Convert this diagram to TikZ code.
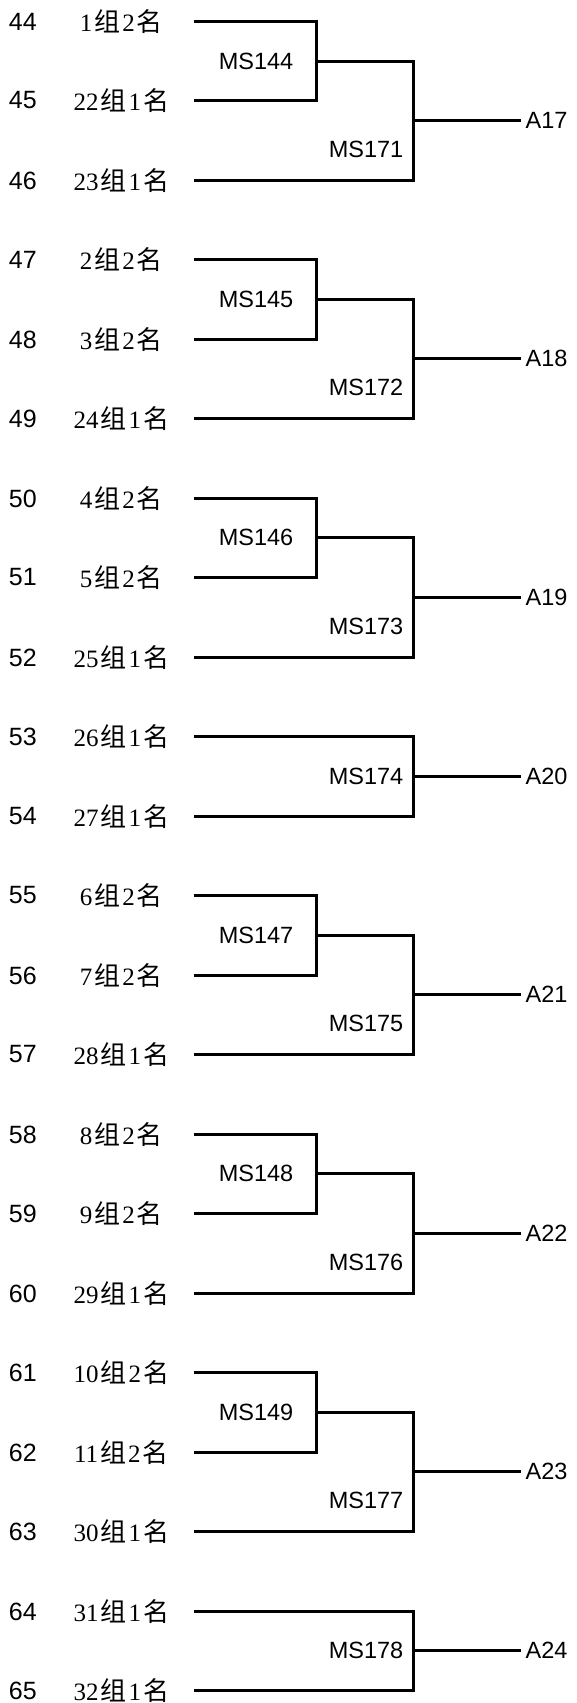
\documentclass[tikz,border=0pt]{standalone}
\usepackage{fontspec}
\setmainfont{Liberation Sans}
\newfontfamily\teamserif{Liberation Serif}
\newfontfamily\cjk[Scale=1.04]{Noto Sans CJK SC}
\newcommand\rank[2]{#1\kern2pt{\cjk 组}\kern2pt#2\kern2pt{\cjk 名}}

\begin{document}
\begin{tikzpicture}[x=1pt,y=-1pt,
    seed/.style={font=\fontsize{25}{30}\selectfont},
    team/.style={anchor=east,minimum width=144pt,inner sep=0pt,
      font=\teamserif\fontsize{25}{30}\selectfont},
    match/.style={font=\fontsize{23.5}{28}\selectfont},
    slot/.style={anchor=west,inner sep=5pt,font=\fontsize{23.5}{28}\selectfont},
    wire/.style={line width=3pt}]
  \useasboundingbox (0,0) rectangle (576,1703);

  % seeds 44-46
  \node[seed] (n44) at (22.8,21.5) {44};
  \node[seed] (n45) at (22.8,100.5) {45};
  \node[seed] (n46) at (22.8,180.5) {46};
  \node[team] (t44) at (193.5,21.5) {\rank{1}{2}};
  \node[team] (t45) at (193.5,100.5) {\rank{22}{1}};
  \node[team] (t46) at (193.5,180.5) {\rank{23}{1}};
  \coordinate (j144) at (316.5,61.5);
  \coordinate (j171) at (413.5,120.5);
  \node[match] (m144) at (256,61) {MS144};
  \node[match] (m171) at (366,149) {MS171};
  \node[slot] (a17) at (520.5,120.5) {A17};
  \draw[wire] (t44.east) -| (j144) |- (t45.east);
  \draw[wire] (j144) -| (j171) |- (t46.east);
  \draw[wire] (j171) -- (a17.west);

  % seeds 47-49
  \node[seed] (n47) at (22.8,259.5) {47};
  \node[seed] (n48) at (22.8,339.5) {48};
  \node[seed] (n49) at (22.8,418.5) {49};
  \node[team] (t47) at (193.5,259.5) {\rank{2}{2}};
  \node[team] (t48) at (193.5,339.5) {\rank{3}{2}};
  \node[team] (t49) at (193.5,418.5) {\rank{24}{1}};
  \coordinate (j145) at (316.5,299.5);
  \coordinate (j172) at (413.5,358.5);
  \node[match] (m145) at (256,299.5) {MS145};
  \node[match] (m172) at (366,387.5) {MS172};
  \node[slot] (a18) at (520.5,358.5) {A18};
  \draw[wire] (t47.east) -| (j145) |- (t48.east);
  \draw[wire] (j145) -| (j172) |- (t49.east);
  \draw[wire] (j172) -- (a18.west);

  % seeds 50-52
  \node[seed] (n50) at (22.8,498.5) {50};
  \node[seed] (n51) at (22.8,577.5) {51};
  \node[seed] (n52) at (22.8,657.5) {52};
  \node[team] (t50) at (193.5,498.5) {\rank{4}{2}};
  \node[team] (t51) at (193.5,577.5) {\rank{5}{2}};
  \node[team] (t52) at (193.5,657.5) {\rank{25}{1}};
  \coordinate (j146) at (316.5,537.5);
  \coordinate (j173) at (413.5,597.5);
  \node[match] (m146) at (256,537.5) {MS146};
  \node[match] (m173) at (366,626) {MS173};
  \node[slot] (a19) at (520.5,597.5) {A19};
  \draw[wire] (t50.east) -| (j146) |- (t51.east);
  \draw[wire] (j146) -| (j173) |- (t52.east);
  \draw[wire] (j173) -- (a19.west);

  % seeds 53-54
  \node[seed] (n53) at (22.8,736.5) {53};
  \node[seed] (n54) at (22.8,816.5) {54};
  \node[team] (t53) at (193.5,736.5) {\rank{26}{1}};
  \node[team] (t54) at (193.5,816.5) {\rank{27}{1}};
  \coordinate (j174) at (413.5,776.5);
  \node[match] (m174) at (366,776.5) {MS174};
  \node[slot] (a20) at (520.5,776.5) {A20};
  \draw[wire] (t53.east) -| (j174) |- (t54.east);
  \draw[wire] (j174) -- (a20.west);

  % seeds 55-57
  \node[seed] (n55) at (22.8,895.5) {55};
  \node[seed] (n56) at (22.8,975.5) {56};
  \node[seed] (n57) at (22.8,1054.5) {57};
  \node[team] (t55) at (193.5,895.5) {\rank{6}{2}};
  \node[team] (t56) at (193.5,975.5) {\rank{7}{2}};
  \node[team] (t57) at (193.5,1054.5) {\rank{28}{1}};
  \coordinate (j147) at (316.5,935.5);
  \coordinate (j175) at (413.5,994.5);
  \node[match] (m147) at (256,935.5) {MS147};
  \node[match] (m175) at (366,1023.5) {MS175};
  \node[slot] (a21) at (520.5,994.5) {A21};
  \draw[wire] (t55.east) -| (j147) |- (t56.east);
  \draw[wire] (j147) -| (j175) |- (t57.east);
  \draw[wire] (j175) -- (a21.west);

  % seeds 58-60
  \node[seed] (n58) at (22.8,1134.5) {58};
  \node[seed] (n59) at (22.8,1213.5) {59};
  \node[seed] (n60) at (22.8,1293.5) {60};
  \node[team] (t58) at (193.5,1134.5) {\rank{8}{2}};
  \node[team] (t59) at (193.5,1213.5) {\rank{9}{2}};
  \node[team] (t60) at (193.5,1293.5) {\rank{29}{1}};
  \coordinate (j148) at (316.5,1173.5);
  \coordinate (j176) at (413.5,1233.5);
  \node[match] (m148) at (256,1173.5) {MS148};
  \node[match] (m176) at (366,1262) {MS176};
  \node[slot] (a22) at (520.5,1233.5) {A22};
  \draw[wire] (t58.east) -| (j148) |- (t59.east);
  \draw[wire] (j148) -| (j176) |- (t60.east);
  \draw[wire] (j176) -- (a22.west);

  % seeds 61-63
  \node[seed] (n61) at (22.8,1372.5) {61};
  \node[seed] (n62) at (22.8,1452.5) {62};
  \node[seed] (n63) at (22.8,1531.5) {63};
  \node[team] (t61) at (193.5,1372.5) {\rank{10}{2}};
  \node[team] (t62) at (193.5,1452.5) {\rank{11}{2}};
  \node[team] (t63) at (193.5,1531.5) {\rank{30}{1}};
  \coordinate (j149) at (316.5,1412.5);
  \coordinate (j177) at (413.5,1471.5);
  \node[match] (m149) at (256,1412.5) {MS149};
  \node[match] (m177) at (366,1500.5) {MS177};
  \node[slot] (a23) at (520.5,1471.5) {A23};
  \draw[wire] (t61.east) -| (j149) |- (t62.east);
  \draw[wire] (j149) -| (j177) |- (t63.east);
  \draw[wire] (j177) -- (a23.west);

  % seeds 64-65
  \node[seed] (n64) at (22.8,1611.5) {64};
  \node[seed] (n65) at (22.8,1690.5) {65};
  \node[team] (t64) at (193.5,1611.5) {\rank{31}{1}};
  \node[team] (t65) at (193.5,1690.5) {\rank{32}{1}};
  \coordinate (j178) at (413.5,1650.5);
  \node[match] (m178) at (366,1650.5) {MS178};
  \node[slot] (a24) at (520.5,1650.5) {A24};
  \draw[wire] (t64.east) -| (j178) |- (t65.east);
  \draw[wire] (j178) -- (a24.west);
\end{tikzpicture}
\end{document}
